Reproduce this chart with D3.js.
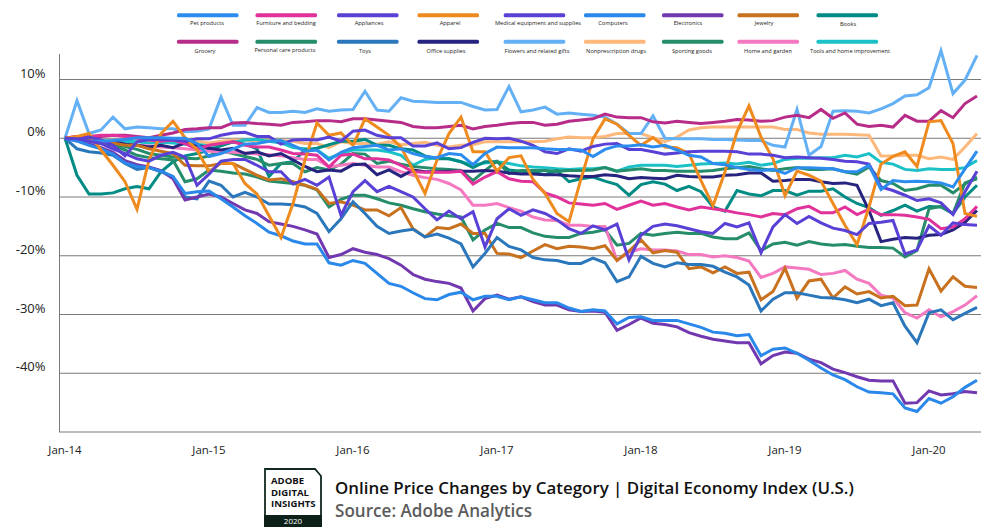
<!DOCTYPE html>
<html><head><meta charset="utf-8">
<script src="https://cdn.jsdelivr.net/npm/d3@7"></script>
<style>html,body{margin:0;padding:0;background:#fff}svg{display:block}text{font-family:"Open Sans",sans-serif}</style>
</head><body><svg id="c" width="986" height="529"></svg>
<script>
const xTickLabels=["Jan-14","Jan-15","Jan-16","Jan-17","Jan-18","Jan-19","Jan-20"];
const yTicks=[10,0,-10,-20,-30,-40,-50];
const legendRow1=["Pet products","Furniture and bedding","Appliances","Apparel","Medical equipment and supplies","Computers","Electronics","Jewelry","Books"];
const legendRow2=["Grocery","Personal care products","Toys","Office supplies","Flowers and related gifts","Nonprescription drugs","Sporting goods","Home and garden","Tools and home improvement"];
const petProducts=[0,-.3,-.5,-.5,-.4,-.2,.1,.1,.1,0,0,-.9,-3.1,-2.6,-1.8,-1,-.9,-.5,-.4,-1.2,-2.2,-2,-3.7,-2.4,-1.6,-1.4,-1.2,-2,-1.8,-2.6,-3.1,-3.3,-2.6,-2.8,-4.5,-2.6,-1.5,-1.6,-1.6,-1.6,-1.8,-1.9,-1.9,-2,-3.1,-1.9,-1.3,-1.3,-1.1,-1.5,-1.2,-2,-2.9,-3.2,-4.3,-4.5,-5,-5.3,-5.5,-5.3,-6,-5,-5,-5.1,-5.2,-5.7,-5.7,-4.6,-8.7,-7.2,-7.4,-7.3,-7.4,-7.6,-8.3,-5.2,-2.2];
const computers=[0,-.5,-1.2,-1.8,-2.7,-4.2,-4.8,-5,-5.6,-6.5,-9.4,-9.1,-9,-10.3,-11.7,-13.2,-14.5,-16,-16.6,-17.5,-18,-18,-21.2,-21.6,-20.8,-21.3,-23,-24.7,-25.2,-26.3,-27.3,-27.5,-26.6,-26.2,-27.5,-26.9,-26.9,-27.5,-27,-27.5,-28,-28,-28.9,-29.5,-29.2,-29.4,-31.6,-30.5,-30.4,-31,-31,-31,-31.6,-32.2,-33,-33.2,-33.6,-33.4,-37,-35.9,-35.7,-36.6,-37.8,-39.1,-40.3,-41.1,-42.3,-43.2,-43.3,-43.5,-45.9,-46.5,-44.3,-45.1,-44,-42.4,-41.2];
const electronics=[0,-.4,-1,-1.6,-2.4,-3.8,-4.5,-4.9,-5.5,-6.9,-10.5,-10,-9.5,-10,-11.1,-12.2,-12.8,-14.2,-14.6,-15,-15.6,-16.3,-20.3,-19.8,-18.8,-19.4,-19.8,-20.5,-21.6,-23.2,-24,-24.4,-24.7,-25.5,-29.4,-27.3,-26.7,-27.4,-27,-27.8,-28.4,-28.4,-29.2,-29.5,-29.4,-29.6,-32.7,-31.7,-30.6,-31.5,-31.7,-32.1,-33.1,-33.7,-34.2,-34.5,-34.8,-34.8,-38.4,-37,-36.4,-36.6,-37.6,-38.2,-39.3,-39.9,-40.6,-41.2,-41.3,-41.3,-45.1,-45,-43,-43.7,-43.5,-43.1,-43.3];
const toys=[0,-1.8,-2.3,-2.5,-2.9,-4.3,-5.3,-5,-5.7,-6.6,-10,-10.3,-7.3,-8,-10,-9.2,-10,-11.2,-11.2,-11.3,-11.7,-12.8,-15.9,-13.7,-10.8,-12.8,-15,-16.2,-15.8,-15.5,-16.8,-16.3,-17,-18,-21.9,-19.6,-16.9,-18.4,-19,-20.3,-20.7,-20.8,-21.3,-21.3,-20.4,-21.2,-24.4,-23.6,-20.1,-21.3,-21.9,-21.2,-21.5,-21.5,-21.8,-22.8,-23.6,-25,-29.4,-27.4,-26.3,-26.3,-26.7,-27.1,-27.2,-27.5,-28,-27.4,-28.5,-28,-32,-34.8,-29.7,-29.2,-30.9,-29.8,-28.8];
const flowers=[0,6.4,.8,1.4,3.6,1.6,1.9,1.8,1.6,1.6,1.1,1.2,1.6,7,2.2,2.2,5.2,4.4,4.4,4.6,4.4,5,4.6,4.8,4.9,8,4.8,4.6,6.9,6.3,6.2,6.1,6.1,6.1,5.4,4.8,4.9,8.8,4.5,4.8,5.3,4.1,4.3,4.1,3.9,3.6,2.4,.8,.8,3.8,0,-.1,-.1,-.1,-.2,-.2,-.3,-.4,-.4,-1.2,-1.5,4.9,-2.9,-1.4,4.6,4.7,4.6,4.3,5,5.9,7.2,7.4,8.6,14.9,7.6,9.9,14.1];
const grocery=[0,.3,.2,.3,.5,.5,.3,.1,.5,.9,1.5,1.6,1.8,1.8,2.6,2.7,2.5,2.4,2.2,2.7,2.8,3,3,2.8,3.3,3.3,3.1,2.9,2.7,2,1.8,1.8,2,2.2,1.6,2,2.2,2.5,2.7,2.7,2.2,2.4,2.9,3.1,3.3,4.1,3.6,3.5,3.5,2.8,2.6,2.9,2.7,2.5,2.7,2.9,3.2,3.1,2.9,3,3.6,3.9,3.5,4.9,3.4,4.3,2.4,2,2.2,1.9,3.9,2.9,2.9,4.7,3.5,5.9,7.2];
const nonprescription=[0,-.2,-.3,-.4,-.5,-.4,-.5,-.6,-.5,-.4,-.3,-.5,-.8,-.5,-.3,-.4,-.4,-.4,-.4,-.5,-.9,-.9,-1.6,-.6,-.9,-.9,-1,-.6,-1.1,-.9,-.7,-1.2,-1.5,-1.2,-1.1,-.6,-.6,-.6,-.6,-.6,-.5,-.1,.2,.1,.1,.3,.8,.8,.8,.1,-.6,.2,1.4,1.8,1.9,1.9,1.9,1.9,1.9,1.9,1.5,1.5,.9,.7,.7,.7,.6,.5,-3,-3,-2.9,-2.9,-3.5,-3.2,-3.6,-1.5,.8];
const tools=[0,-.2,-.5,-.4,-.6,-.5,-.6,-.8,-.7,-.8,-1,-1,-1.3,-1,-.7,-.3,-.2,-.5,-.8,-1.6,-1.8,-2,-3.4,-2.6,-2,-2,-2,-2.3,-2.9,-4.6,-3.6,-3.3,-3.5,-4,-4.6,-4.2,-4,-4.3,-4.7,-4.9,-5,-5.2,-5.3,-5.2,-5.2,-5,-5.6,-4.9,-4.6,-4.6,-4.6,-4.8,-4.6,-4.4,-4.3,-4.2,-4.4,-4.1,-4.6,-4.3,-3.6,-3.4,-3.4,-3.3,-3.3,-2.9,-3.2,-2.6,-4.1,-4.4,-5.3,-5.5,-5.2,-5.3,-5.3,-5,-3.8];
const medical=[0,-.2,.2,-.3,-1.2,-3,-.6,-.2,-.2,-.3,-.5,-.1,-.1,.5,.9,1,.3,.3,-1,-.3,-.2,-.3,.2,-.5,1.2,1.4,.5,.1,.1,-1.3,-1.3,-.8,-1.8,-1.6,-.7,0,-.1,0,-.5,-1.2,-2.3,-2.6,-1.8,-2.2,-1.4,-1,-.9,-1.9,-1.9,-2.3,-2.7,-2.5,-2.3,-2.2,-2.2,-2.2,-2.3,-2.7,-2.7,-2.9,-3.3,-3.2,-3.3,-3.4,-3.6,-3.9,-4,-4.4,-8.3,-8.9,-9.7,-10.6,-10.3,-11,-13,-9.1,-5.6];
const appliances=[0,-.1,-.5,-.9,-1.8,-2.6,-3.5,-3.9,-2.9,-2.4,-3.2,-8,-6.1,-3.9,-3.6,-3.6,-4.6,-5.7,-5.7,-7.8,-7,-8,-6.6,-13.1,-9.1,-7.2,-9.1,-8.2,-9.1,-10,-12,-13.9,-12.4,-13.7,-12.5,-18.5,-13.7,-12,-13.1,-12.2,-12.8,-13.9,-15.4,-16.2,-14.9,-15.6,-14.6,-20.7,-16.5,-15,-14.6,-14.9,-15.4,-15.9,-16.2,-14.5,-15.1,-14.4,-19.5,-15.1,-13,-14.5,-13.3,-14.4,-15.3,-15.7,-16.4,-14.5,-14.3,-14,-19.7,-19,-14.9,-16.5,-14.4,-14.7,-14.8];
const apparel=[0,.3,.8,-2,-4.6,-7.4,-12.1,-3.7,.8,2.9,.1,-2,-5.7,-4.2,-4.3,-7.7,-9.5,-13.2,-16.9,-11.1,-3.7,2.6,.5,.9,-1.2,3.3,1.9,.5,-1.5,-5.4,-9.4,-3.7,.8,3.6,-2.3,-2.3,-5.6,-3.3,-3,-7,-9.4,-12.8,-14.2,-6.9,-.1,3.3,2.4,.5,-1.2,.1,-1.5,-1.6,-2.6,-7.2,-11.5,-5.7,1.1,5.5,.2,-3.5,-9.8,-5.6,-6.3,-7.3,-11.1,-14.8,-18.1,-11.7,-4.4,-3.1,-2.3,-4.8,2.8,3,-.9,-12.8,-13.3];
const jewelry=[0,-.3,-.4,-.5,-.8,-1.2,-1.2,-1.8,-2.2,-2.6,-4.6,-4.7,-4.7,-4.3,-4.3,-5.3,-6.3,-7.1,-6.9,-7.4,-8,-8.7,-11.1,-10.8,-11.4,-12.2,-12.2,-13.2,-11.8,-15.4,-16.8,-15.2,-15.4,-14.6,-16.2,-16.2,-19.6,-19.7,-20.3,-19.2,-18.1,-18.8,-18.4,-18.5,-18.8,-18.3,-20.8,-19.2,-17.3,-19.5,-19.1,-19.4,-22.2,-21.9,-22.9,-21.9,-23,-22.8,-27.5,-26.1,-22.1,-27.2,-24.3,-24,-27.2,-25.3,-26.5,-26.1,-27.2,-26.9,-28.5,-28.4,-22.2,-26,-23.6,-25.2,-25.4];
const homeGarden=[0,-.3,-.5,-.5,-.7,-1,-1.2,-1.3,-1.5,-1.6,-1.8,-2,-2.2,-2.3,-2.4,-2.5,-2.7,-2.8,-3,-3.3,-3.6,-3.6,-4.9,-4.6,-4.3,-4.6,-4.9,-4.9,-5.7,-6.3,-6.7,-7,-7.7,-8.8,-11.4,-11.4,-11.1,-11.8,-12.4,-13.4,-13.9,-14,-14.8,-14.8,-15,-15,-20.8,-19.4,-18.8,-19,-19,-19.2,-19.8,-19.8,-20.2,-20,-20.3,-20.9,-23.7,-23,-21.9,-22.1,-22.3,-23.2,-23,-22.5,-24,-24.7,-26.7,-27.2,-29.7,-30.6,-29.2,-30.4,-29.5,-28.4,-26.8];
const sporting=[0,-.2,-.5,-.9,-1.2,-2,-2.9,-3.3,-3.5,-3.7,-7.4,-6.9,-5.4,-5.6,-5.9,-6.1,-6.6,-7.3,-7.5,-7.7,-8,-8.8,-11.7,-10.4,-9.7,-9.7,-10.3,-11,-11.4,-12,-12.5,-12.9,-13.2,-13.4,-17.3,-15.6,-14.5,-15.2,-15.2,-16.1,-16.7,-16.9,-16.9,-16.2,-16,-15.6,-18.2,-17.9,-16.2,-16.5,-16.2,-16,-16.2,-16.2,-16.8,-17.1,-17.1,-16.1,-19.1,-18,-17.7,-18.2,-17.6,-18,-18.2,-18.1,-18.4,-18.6,-18.6,-18.7,-20.2,-19.1,-12,-11.6,-12.8,-7.6,-6.9];
const personal=[0,-.3,-.6,-.6,-.9,-1.4,-1.9,-2.6,-2.9,-3.2,-3.4,-3.5,-3,-2.1,-2.6,-3.1,-3.6,-4.6,-4.3,-4.3,-5.7,-5,-5.4,-4.4,-2.6,-2.7,-4.3,-3.9,-4.4,-4.8,-5,-5.2,-5.3,-5.5,-7.2,-5.5,-3.9,-6,-5.5,-5.5,-5.5,-5.6,-5.5,-5.5,-5.4,-5,-5.6,-5.4,-5.2,-5.5,-5.5,-5.6,-5.6,-5.6,-5.5,-5.2,-5,-4.8,-5.2,-5.5,-5.2,-5,-5.3,-5.3,-5.2,-5.7,-6.1,-4.9,-7.2,-7.7,-8.9,-8.6,-8,-8,-9.3,-7.8,-6.6];
const furniture=[0,.3,.3,.5,.5,.3,0,-.3,-.5,-.3,-.9,-1.8,-1.2,-.9,-.6,-1.2,-1.5,-1.5,-2,-2.6,-2.7,-2.9,-4.9,-2.9,-2.7,-3.5,-3.5,-3.7,-4.6,-5.7,-5.8,-5.8,-5.8,-5.6,-7.8,-6.6,-5.7,-6.9,-7.3,-7.4,-9.3,-10,-11,-11.2,-11.4,-11.1,-12.1,-11.4,-10.7,-11.4,-11.1,-11.7,-12.2,-11.7,-12,-12.3,-12.7,-13,-13.4,-12.8,-13,-12,-11.6,-12.7,-12.7,-11.7,-13,-12.1,-13,-13,-13.1,-13.4,-13.8,-15.4,-15.1,-13.7,-11.6];
const office=[0,-.2,-.3,-.6,-.5,-1,-1.2,-1.5,-1.2,-1.6,-.8,-1.2,-1.7,-2,-1.7,-2.6,-2.3,-3,-2.6,-3.7,-4.8,-5.7,-5.4,-5.6,-4.5,-4.4,-6.2,-5.4,-6.5,-5.4,-5.7,-5.7,-5.6,-5.6,-5.6,-5.5,-5.6,-5.9,-6.1,-6.1,-6.2,-6.2,-6.4,-6.5,-6.5,-6.2,-6.4,-6.9,-6.7,-6.8,-6.9,-6.3,-6.5,-6.6,-6.6,-6.3,-6.2,-5.9,-5.9,-7.3,-7.2,-7,-7,-7.4,-7.7,-7.6,-8,-12.3,-17.6,-17.2,-16.9,-17,-16.5,-16.4,-15.6,-14.3,-12.3];
const books=[0,-6.3,-9.5,-9.5,-9.3,-8.6,-8.2,-8.6,-5.7,-4,-3,-2.6,-2,-1.3,-.6,-1,-1.8,-6.5,-4.3,-4,-2,-1.7,-1.1,-.5,-.5,-.2,-1.2,-1.2,-1.8,-2,-3,-3.5,-3.5,-4,-5,-4,-4,-5.4,-5.6,-5.8,-6.2,-5.5,-7.4,-6.9,-6.6,-7.3,-7.9,-9.7,-7.9,-7.4,-7.8,-8.9,-8.2,-9.1,-11.7,-12.4,-8.9,-9.5,-9.8,-8.9,-8.9,-9.7,-9,-9,-8.6,-10,-11.1,-11.8,-13.1,-12.3,-11.4,-12.4,-11.6,-11.7,-12.8,-10,-8];
const seriesColors={"Pet products":"#2d8dee","Furniture and bedding":"#e0329a","Appliances":"#5a41d6","Apparel":"#ee8a1e","Medical equipment and supplies":"#5a41d6","Computers":"#2a88ea","Electronics":"#7138b0","Jewelry":"#c8711f","Books":"#008c84","Grocery":"#b72c88","Personal care products":"#258d6a","Toys":"#2b77bb","Office supplies":"#27247f","Flowers and related gifts":"#64b0f5","Nonprescription drugs":"#fdb87c","Sporting goods":"#258d6a","Home and garden":"#f479c1","Tools and home improvement":"#1cc1c8"};
const drawOrder=[["Nonprescription drugs",nonprescription],["Tools and home improvement",tools],["Flowers and related gifts",flowers],["Grocery",grocery],["Books",books],["Personal care products",personal],["Sporting goods",sporting],["Home and garden",homeGarden],["Office supplies",office],["Furniture and bedding",furniture],["Jewelry",jewelry],["Toys",toys],["Electronics",electronics],["Computers",computers],["Apparel",apparel],["Medical equipment and supplies",medical],["Pet products",petProducts],["Appliances",appliances]];

const svg=d3.select("#c");
const x=d3.scaleLinear().domain([0,76]).range([65,977]);
const y=d3.scaleLinear().domain([10,-50]).range([79.5,432]);
const grid=svg.append("g");
grid.selectAll("line").data(yTicks).join("line")
  .attr("x1",59).attr("x2",981).attr("y1",d=>y(d)).attr("y2",d=>y(d))
  .attr("stroke","#7a7a7a").attr("stroke-width",1);
grid.append("line").attr("x1",59.5).attr("x2",59.5).attr("y1",54).attr("y2",432).attr("stroke","#7a7a7a");
svg.append("g").selectAll("text").data(yTicks.filter(d=>d>-50)).join("text")
  .attr("x",45.5).attr("y",d=>y(d)-2).attr("text-anchor","end").attr("font-size",13).attr("font-family","Lato").attr("fill","#222")
  .text(d=>d+"%");
svg.append("g").selectAll("text").data(xTickLabels).join("text")
  .attr("x",(d,i)=>x(i*12)).attr("y",454).attr("text-anchor","middle").attr("font-size",11.5).attr("font-family","Lato").attr("fill","#222")
  .text(d=>d);
const line=d3.line().x((d,i)=>x(i)).y(d=>y(d));
svg.append("g").selectAll("path").data(drawOrder).join("path")
  .attr("fill","none").attr("stroke-width",3).attr("stroke-linejoin","miter").attr("stroke-miterlimit",4)
  .attr("stroke",d=>seriesColors[d[0]]).attr("d",d=>line(d[1]));

const swatchLeft=[177,255.5,337,417.5,503.7,584,662,737.5,816.5];
const labelMid1=[207,286,369,450,538,613,688,764,848];
const labelMid2=[205,285,365,446,537,616,692,768,850];
const labelBase1=[25,25,25,25,25,25,25,25,25.5];
const labelBase2=[53,51.8,53,53,53,53,53,53,53];
[[legendRow1,15.3,labelMid1,labelBase1],[legendRow2,41.7,labelMid2,labelBase2]].forEach(([row,sy,mids,bases])=>{
  const g=svg.append("g");
  g.selectAll("rect").data(row).join("rect")
    .attr("x",(d,i)=>swatchLeft[i]).attr("y",sy-2).attr("width",61.5).attr("height",4).attr("rx",1.5)
    .attr("fill",d=>seriesColors[d]);
  g.selectAll("text").data(row).join("text")
    .attr("x",(d,i)=>mids[i]).attr("y",(d,i)=>bases[i]).attr("text-anchor","middle")
    .attr("font-size",5.7).attr("fill","#222").attr("font-family","Lato").text(d=>d);
});

const logo=svg.append("g");
logo.append("path").attr("d","M265 469H315L321 476V525H265Z").attr("fill","#fff").attr("stroke","#12291f").attr("stroke-width",1.8);
logo.append("rect").attr("x",264).attr("y",515).attr("width",58).attr("height",12).attr("fill","#0e2119");
["ADOBE","DIGITAL","INSIGHTS"].forEach((t,i)=>logo.append("text").attr("x",271).attr("y",484+i*11.7).attr("font-size",9.6).attr("font-weight",700).attr("fill","#111").text(t));
logo.append("text").attr("x",293).attr("y",524).attr("text-anchor","middle").attr("font-size",8).attr("fill","#fff").text("2020");
svg.append("text").attr("x",335).attr("y",494).attr("font-size",16.9).attr("font-weight",600).attr("fill","#111").text("Online Price Changes by Category | Digital Economy Index (U.S.)");
svg.append("text").attr("x",335).attr("y",517).attr("font-size",17.1).attr("font-weight",600).attr("fill","#5b5b5b").text("Source: Adobe Analytics");
</script></body></html>
